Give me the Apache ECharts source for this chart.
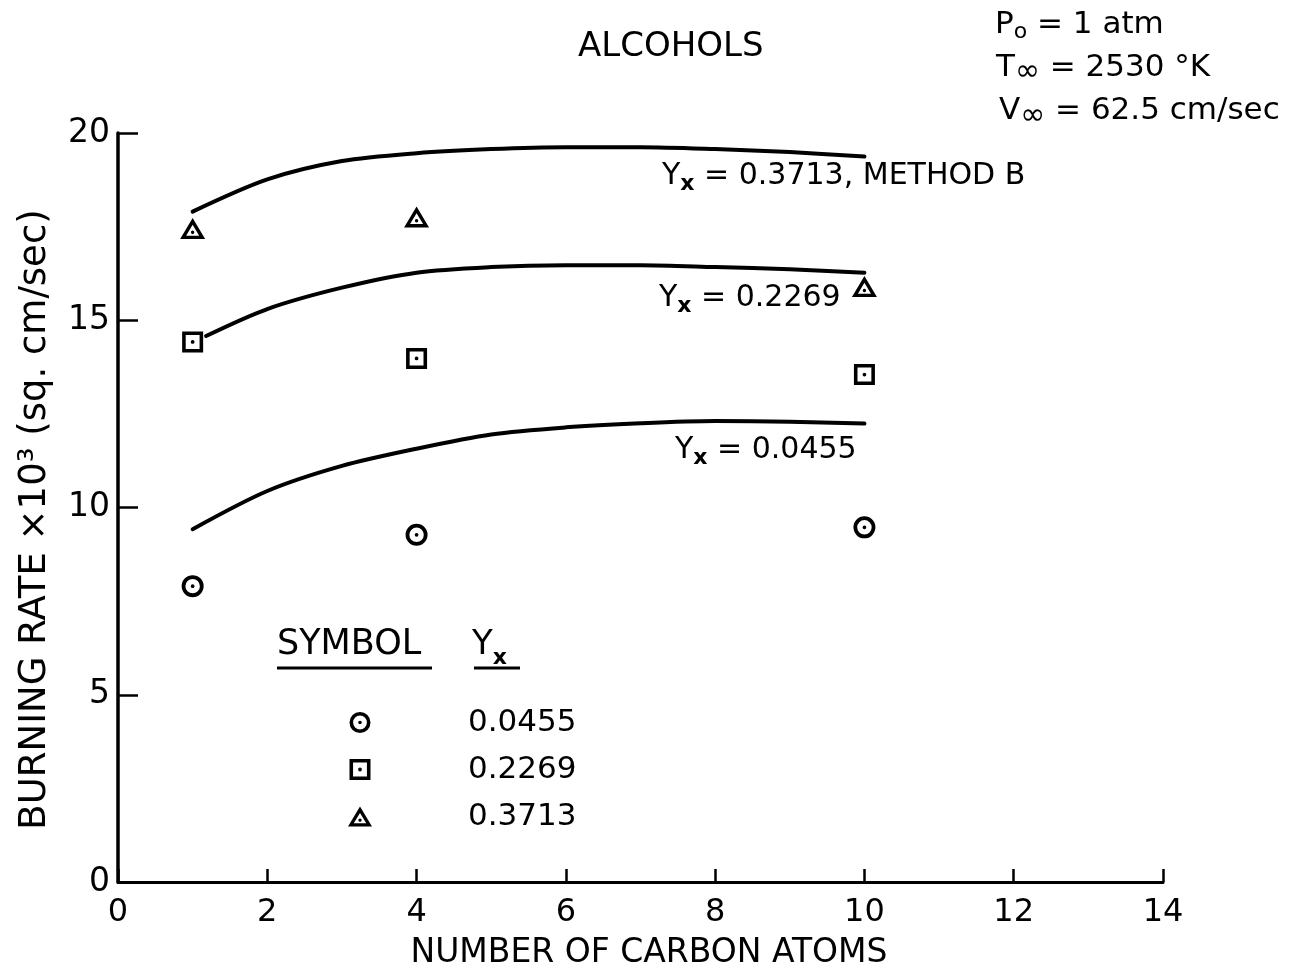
<!DOCTYPE html>
<html>
<head>
<meta charset="utf-8">
<title>Alcohols burning rate</title>
<script src="https://cdn.jsdelivr.net/npm/echarts@6/dist/echarts.min.js"></script>
<style>
  html, body { margin: 0; padding: 0; background: #ffffff; }
  #chart { width: 1291px; height: 975px; }
</style>
</head>
<body>
<div id="chart"></div>
<script>
// Number of carbon atoms of the measured alcohols
const carbonAtoms = [1, 4, 10];

// Measured burning rate ×10³ (sq. cm/sec) for each oxidizer mass fraction Yx
const measured0455 = [7.9, 9.27, 9.47];
const measured2269 = [14.42, 13.98, 13.55];
const measured3713 = [17.37, 17.68, 15.82];

// Calculated curves: carbon atoms (x) and burning rate (y)
const calc0455X = [1, 2, 3, 4, 5, 6, 7, 8, 9, 10];
const calc0455Y = [9.42, 10.44, 11.11, 11.57, 11.95, 12.14, 12.25, 12.31, 12.29, 12.24];
const calc2269X = [1.18, 2, 3, 4, 5, 6, 7, 8, 9, 10];
const calc2269Y = [14.58, 15.3, 15.87, 16.27, 16.42, 16.47, 16.47, 16.42, 16.36, 16.27];
const calc3713X = [1, 2, 3, 4, 5, 6, 7, 8, 9, 10];
const calc3713Y = [17.9, 18.76, 19.25, 19.46, 19.57, 19.62, 19.62, 19.57, 19.49, 19.37];

// Axis ticks
const xTicks = [0, 2, 4, 6, 8, 10, 12, 14];
const yTicks = [0, 5, 10, 15, 20];

// Legend entries (Yx values)
const seriesNames = ['0.0455', '0.2269', '0.3713'];

const FONT = 'DejaVu Sans';
const INK = '#000000';

// Open symbols with a centre dot (ring + hole + dot, nonzero fill)
const circleDot = 'path://M10.5,0A10.5,10.5,0,1,1,-10.5,0A10.5,10.5,0,1,1,10.5,0Z' +
  'M6.9,0A6.9,6.9,0,1,0,-6.9,0A6.9,6.9,0,1,0,6.9,0Z' +
  'M1.8,0A1.8,1.8,0,1,1,-1.8,0A1.8,1.8,0,1,1,1.8,0Z';
const squareDot = 'path://M-10,-10L10,-10L10,10L-10,10Z' +
  'M-6.6,-6.6L-6.6,6.6L6.6,6.6L6.6,-6.6Z' +
  'M1.8,0A1.8,1.8,0,1,1,-1.8,0A1.8,1.8,0,1,1,1.8,0Z';
const triangleDot = 'path://M0,-10L11.5,9L-11.5,9Z' +
  'M0,-3.9L-6,6L6,6Z' +
  'M1.6,3A1.6,1.6,0,1,1,-1.6,3A1.6,1.6,0,1,1,1.6,3Z';

function zip(xs, ys) { return xs.map((x, i) => [x, ys[i]]); }

function scatter(name, values, symbol, size, offset) {
  return {
    type: 'scatter',
    name: name,
    data: zip(carbonAtoms, values),
    symbol: symbol,
    symbolSize: size,
    symbolOffset: offset || [0, 0],
    itemStyle: { color: INK, opacity: 1 },
    z: 4
  };
}

function curve(name, xs, ys) {
  return {
    type: 'line',
    name: name,
    data: zip(xs, ys),
    smooth: 0.3,
    showSymbol: false,
    silent: true,
    lineStyle: { color: INK, width: 4, cap: 'round', join: 'round' },
    z: 3
  };
}

// Rich text pieces: main text and lowered subscript
function label(x, y, text, opts) {
  const o = Object.assign({ size: 30, subSize: 22, subPad: 16, subWeight: 'bold' }, opts || {});
  return {
    type: 'text', x: x, y: y, silent: true,
    style: {
      text: text,
      verticalAlign: 'middle',
      align: 'left',
      fill: INK,
      rich: {
        m: { fontFamily: FONT, fontSize: o.size, lineHeight: o.size + 2, fill: INK },
        s: { fontFamily: FONT, fontSize: o.subSize, fontWeight: o.subWeight, lineHeight: o.subSize,
             padding: [o.subPad, 0, 0, 0], fill: INK }
      }
    }
  };
}

const chart = echarts.init(document.getElementById('chart'), null, { renderer: 'canvas' });

chart.setOption({
  backgroundColor: '#ffffff',
  animation: false,
  title: {
    text: 'ALCOHOLS',
    left: 573,
    top: 25,
    textStyle: { fontFamily: FONT, fontSize: 34, fontWeight: 'normal', color: INK }
  },
  grid: { left: 118, right: 128, top: 133, bottom: 89 },
  xAxis: {
    type: 'value',
    min: xTicks[0],
    max: xTicks[xTicks.length - 1],
    interval: xTicks[1] - xTicks[0],
    name: 'NUMBER OF CARBON ATOMS',
    nameLocation: 'middle',
    nameGap: 55,
    nameTextStyle: { fontFamily: FONT, fontSize: 33, color: INK, padding: [0, 0, 0, 17] },
    axisLine: { lineStyle: { color: INK, width: 3 } },
    axisTick: { inside: true, length: 13, lineStyle: { color: INK, width: 2.5 } },
    axisLabel: { fontFamily: FONT, fontSize: 32, color: INK, margin: 15 },
    splitLine: { show: false }
  },
  yAxis: {
    type: 'value',
    min: yTicks[0],
    max: yTicks[yTicks.length - 1],
    interval: yTicks[1] - yTicks[0],
    name: 'BURNING RATE ×10³ (sq. cm/sec)',
    nameLocation: 'middle',
    nameGap: 64,
    nameTextStyle: { fontFamily: FONT, fontSize: 37, color: INK, padding: [0, 24, 0, 0] },
    axisLine: { lineStyle: { color: INK, width: 3.5 } },
    axisTick: { inside: true, length: 20, lineStyle: { color: INK, width: 2.5 } },
    axisLabel: { fontFamily: FONT, fontSize: 33, color: INK, margin: 8 },
    splitLine: { show: false }
  },
  legend: {
    data: seriesNames,
    orient: 'vertical',
    left: 343,
    top: 702,
    itemWidth: 24,
    itemHeight: 21,
    itemGap: 16,
    selectedMode: false,
    itemStyle: { opacity: 1 },
    textStyle: { fontFamily: FONT, fontSize: 31, lineHeight: 30, color: INK, padding: [0, 0, 0, 91] }
  },
  series: [
    curve('calc 0.0455', calc0455X, calc0455Y),
    curve('calc 0.2269', calc2269X, calc2269Y),
    curve('calc 0.3713', calc3713X, calc3713Y),
    scatter(seriesNames[0], measured0455, circleDot, 22),
    scatter(seriesNames[1], measured2269, squareDot, 21),
    scatter(seriesNames[2], measured3713, triangleDot, [25, 21], [0, -3])
  ],
  graphic: [
    // curve labels
    label(662, 176, '{m|Y}{s|x}{m| = 0.3713, METHOD B}'),
    label(659, 298, '{m|Y}{s|x}{m| = 0.2269}'),
    label(675, 450, '{m|Y}{s|x}{m| = 0.0455}'),
    // conditions
    label(995, 25, '{m|P}{s|o}{m| = 1 atm}', { size: 31, subSize: 22, subPad: 15, subWeight: 'normal' }),
    label(996, 68, '{m|T}{s|∞}{m| = 2530 °K}', { size: 31, subSize: 30, subPad: 8, subWeight: 'normal' }),
    label(999, 111, '{m|V}{s|∞}{m| = 62.5 cm/sec}', { size: 31, subSize: 30, subPad: 10, subWeight: 'normal' }),
    // legend header
    {
      type: 'text', x: 277, y: 645, silent: true,
      style: { text: 'SYMBOL', fontFamily: FONT, fontSize: 35, fill: INK, verticalAlign: 'middle' }
    },
    label(472, 645, '{m|Y}{s|x}', { size: 34, subPad: 26 }),
    {
      type: 'line', silent: true,
      shape: { x1: 277, y1: 668, x2: 432, y2: 668 },
      style: { stroke: INK, lineWidth: 3 }
    },
    {
      type: 'line', silent: true,
      shape: { x1: 474, y1: 668, x2: 520, y2: 668 },
      style: { stroke: INK, lineWidth: 3 }
    }
  ]
});
</script>
</body>
</html>
